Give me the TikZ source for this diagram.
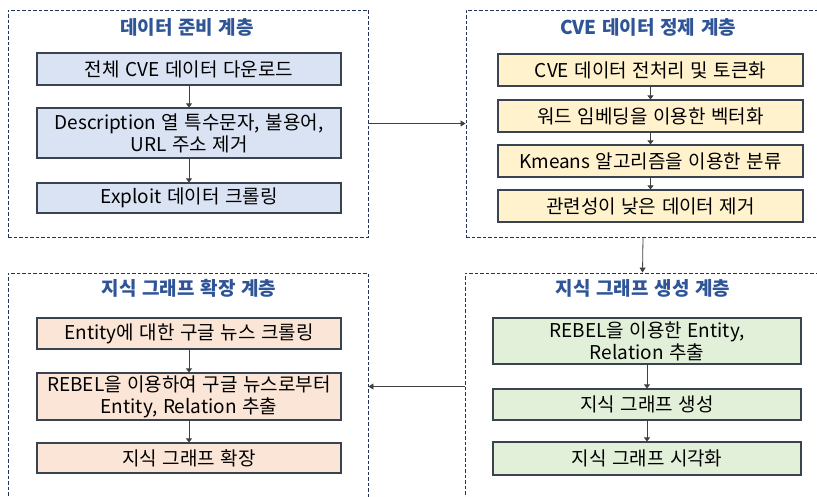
\documentclass[tikz,border=0pt]{standalone}
\usepackage{fontspec}
\setmainfont{Noto Sans CJK KR}[WordSpace=1.3]
\usetikzlibrary{arrows.meta}
\definecolor{bluefill}{HTML}{DAE3F3}
\definecolor{yelfill}{HTML}{FFF2CC}
\definecolor{peachfill}{HTML}{FBE5D6}
\definecolor{greenfill}{HTML}{E2F0D9}
\definecolor{boxline}{HTML}{3A4350}
\definecolor{titleblue}{HTML}{2F5597}
\definecolor{dashline}{HTML}{25355A}
\definecolor{arrline}{HTML}{404040}
\tikzset{
  layerbox/.style={draw=dashline, line width=0.9pt, dash pattern=on 3.5pt off 2pt, rectangle, inner sep=0pt},
  stepbox/.style={draw=boxline, line width=1.1pt, rectangle, inner sep=0pt, align=center,
    font=\fontsize{19}{22}\selectfont, text=black},
  layertitle/.style={font=\fontsize{19}{22}\selectfont\bfseries, text=titleblue, inner sep=0pt},
  arr/.style={draw=arrline, line width=0.8pt, -{Triangle[width=6pt,length=5pt]}},
  inarr/.style={draw=arrline, line width=0.8pt, -{Triangle[width=6pt,length=4pt]}}
}
\begin{document}
\begin{tikzpicture}[x=1pt,y=-1pt]
\useasboundingbox (0,0) rectangle (817,497);
% layers
\node[layerbox, minimum width=360pt, minimum height=227pt] (L1) at (188,123.5) {};
\node[layerbox, minimum width=354pt, minimum height=227pt] (L2) at (643,123.5) {};
\node[layerbox, minimum width=360pt, minimum height=227pt] (L3) at (188,386.5) {};
\node[layerbox, minimum width=355pt, minimum height=227pt] (L4) at (642.5,386.5) {};
% titles
\node[layertitle] (T1) at (187,27) {데이터 준비 계층};
\node[layertitle] (T2) at (648,27) {CVE 데이터 정제 계층};
\node[layertitle] (T3) at (189,288) {지식 그래프 확장 계층};
\node[layertitle] (T4) at (643,288) {지식 그래프 생성 계층};
% layer 1
\node[stepbox, fill=bluefill, minimum width=304pt, minimum height=32pt] (a1) at (189,69) {전체 CVE 데이터 다운로드};
\node[stepbox, fill=bluefill, minimum width=304pt, minimum height=50pt] (a2) at (189,133) {Description 열 특수문자, 불용어,\\URL 주소 제거};
\node[stepbox, fill=bluefill, minimum width=304pt, minimum height=30pt] (a3) at (189,198) {Exploit 데이터 크롤링};
% layer 2
\node[stepbox, fill=yelfill, minimum width=305pt, minimum height=32pt] (b1) at (650.5,70) {CVE 데이터 전처리 및 토큰화};
\node[stepbox, fill=yelfill, minimum width=305pt, minimum height=32pt] (b2) at (650.5,116) {워드 임베딩을 이용한 벡터화};
\node[stepbox, fill=yelfill, minimum width=305pt, minimum height=32pt] (b3) at (650.5,161) {Kmeans 알고리즘을 이용한 분류};
\node[stepbox, fill=yelfill, minimum width=305pt, minimum height=32pt] (b4) at (650.5,206) {관련성이 낮은 데이터 제거};
% layer 4 (generation)
\node[stepbox, fill=greenfill, minimum width=308pt, minimum height=46pt] (c1) at (647,341) {REBEL을 이용한 Entity,\\Relation 추출};
\node[stepbox, fill=greenfill, minimum width=308pt, minimum height=31pt] (c2) at (647,404.5) {지식 그래프 생성};
\node[stepbox, fill=greenfill, minimum width=308pt, minimum height=33pt] (c3) at (647,458.5) {지식 그래프 시각화};
% layer 3 (expansion)
\node[stepbox, fill=peachfill, minimum width=304pt, minimum height=31pt] (d1) at (189,333.5) {Entity에 대한 구글 뉴스 크롤링};
\node[stepbox, fill=peachfill, minimum width=304pt, minimum height=47pt] (d2) at (189,396.5) {REBEL을 이용하여 구글 뉴스로부터\\Entity, Relation 추출};
\node[stepbox, fill=peachfill, minimum width=304pt, minimum height=30pt] (d3) at (189,458) {지식 그래프 확장};
% inner arrows
\draw[inarr] (a1) -- (a2);
\draw[inarr] (a2) -- (a3);
\draw[inarr] (b1) -- (b2);
\draw[inarr] (b2) -- (b3);
\draw[inarr] (b3) -- (b4);
\draw[inarr] (c1) -- (c2);
\draw[inarr] (c2) -- (c3);
\draw[inarr] (d1) -- (d2);
\draw[inarr] (d2) -- (d3);
% layer arrows
\draw[arr] (L1.east) -- (L2.west);
\draw[arr] (L2.south) -- (L4.north);
\draw[arr] (L4.west) -- (L3.east);
\end{tikzpicture}
\end{document}
